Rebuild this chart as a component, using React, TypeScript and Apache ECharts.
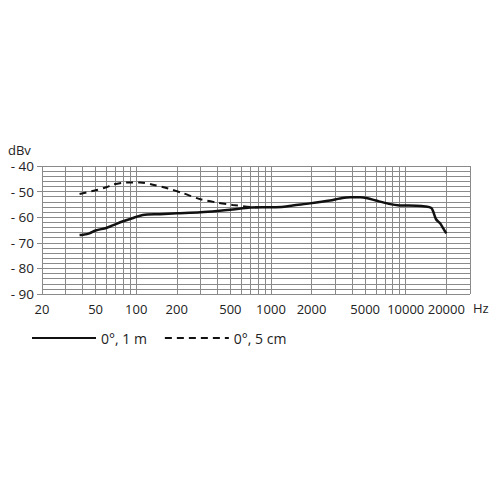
import React, { useEffect, useRef } from "react";
import * as echarts from "echarts";

const gridFreqs = [
  20, 30, 40, 50, 60, 70, 80, 90,
  100, 200, 300, 400, 500, 600, 700, 800, 900,
  1000, 2000, 3000, 4000, 5000, 6000, 7000, 8000, 9000,
  10000, 20000, 30000,
];
const labelFreqs = [20, 50, 100, 200, 500, 1000, 2000, 5000, 10000, 20000];

const farFreq = [38, 40, 45, 50, 60, 67, 80, 95, 112, 150, 200, 300, 400, 520, 700, 1000, 1250, 1450, 1950, 2740, 3250, 3870, 4600, 5200, 6000, 7500, 9000, 12000, 14000, 15500, 16000, 16800, 18000, 19000, 20000];
const farLevel = [-67, -66.9, -66.3, -65.2, -64.2, -63.2, -61.6, -60.3, -59.1, -58.8, -58.5, -58.1, -57.6, -57.0, -56.2, -56.1, -55.9, -55.4, -54.6, -53.5, -52.7, -52.2, -52.2, -52.6, -53.5, -54.8, -55.4, -55.5, -55.8, -56.4, -57.8, -60.8, -62.4, -64.4, -66.3];

const nearFreq = [38, 50, 60, 67, 78, 86, 107, 133, 170, 222, 300, 400, 520, 700, 800];
const nearLevel = [-50.9, -49.5, -48.3, -47.3, -46.6, -46.4, -46.4, -47.3, -48.7, -50.6, -53.0, -54.3, -55.2, -56.0, -56.1];

const zip = (xs: number[], ys: number[]) => xs.map((x, i) => [x, ys[i]]);

export default function App() {
  const ref = useRef<HTMLDivElement>(null);
  useEffect(() => {
    if (!ref.current) return;
    const chart = echarts.init(ref.current, null, { renderer: "svg" });
    const font = "Open Sans";
    const gridColor = "#8a8a8a";
    chart.setOption({
      animation: false,
      backgroundColor: "#ffffff",
      textStyle: { fontFamily: font },
      grid: { left: 42, right: 30, top: 166, bottom: 206 },
      legend: {
        left: 31,
        top: 331,
        padding: 0,
        itemWidth: 64,
        itemHeight: 10,
        itemGap: 17,
        itemStyle: { color: "transparent", borderWidth: 0 },
        textStyle: { fontFamily: font, fontSize: 14, color: "#222" },
        data: ["0°, 1 m", "0°, 5 cm"],
      },
      graphic: [
        { type: "text", left: 8, top: 143, style: { text: "dBv", font: `13px "${font}"`, fill: "#222" } },
        { type: "text", left: 473, top: 301, style: { text: "Hz", font: `13px "${font}"`, fill: "#222" } },
      ],
      xAxis: {
        type: "log",
        logBase: 10,
        min: 20,
        max: 30000,
        axisLine: { show: false },
        axisTick: { show: false, customValues: gridFreqs },
        axisLabel: {
          customValues: labelFreqs,
          fontFamily: font,
          fontSize: 13,
          color: "#222",
          margin: 8,
          formatter: (v: number) => String(Math.round(v)),
        },
        splitLine: { show: true, lineStyle: { color: gridColor, width: 1 } },
      },
      yAxis: {
        type: "value",
        min: -90,
        max: -40,
        interval: 10,
        axisLine: { show: false },
        axisTick: { show: true, length: 5, lineStyle: { color: gridColor } },
        axisLabel: {
          fontFamily: font,
          fontSize: 13.5,
          color: "#222",
          margin: 8,
          formatter: (v: number) => "- " + Math.abs(v),
        },
        splitLine: { show: true, lineStyle: { color: gridColor, width: 1 } },
        minorTick: { show: false, splitNumber: 5 },
        minorSplitLine: { show: true, lineStyle: { color: gridColor, width: 1 } },
      },
      series: [
        {
          name: "0°, 1 m",
          type: "line",
          data: zip(farFreq, farLevel),
          symbol: "none",
          smooth: 0.3,
          lineStyle: { color: "#111", width: 2.5, type: "solid" },
          itemStyle: { color: "#111" },
          z: 3,
        },
        {
          name: "0°, 5 cm",
          type: "line",
          data: zip(nearFreq, nearLevel),
          symbol: "none",
          smooth: 0.3,
          lineStyle: { color: "#111", width: 2, type: [7, 5] },
          itemStyle: { color: "#111" },
          z: 3,
        },
      ],
    });
    return () => chart.dispose();
  }, []);
  return (
    <div
      ref={ref}
      style={{ position: "fixed", left: 0, top: 0, width: 500, height: 500 }}
    />
  );
}
